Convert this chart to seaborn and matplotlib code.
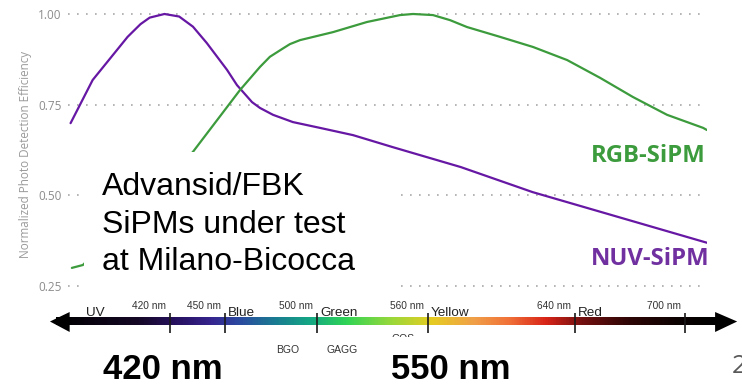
import numpy as np
import pandas as pd
import matplotlib
matplotlib.use("Agg")
import matplotlib.pyplot as plt
import seaborn as sns
from matplotlib.colors import LinearSegmentedColormap
from matplotlib.patches import Rectangle, Polygon

# ---------------- data ----------------
nuv_wl = [366, 378, 397, 404, 409, 417, 425, 432.5, 440, 451, 456.4, 464.6, 468.9, 476,
          486.8, 501.5, 519.5, 541, 578, 617, 712]
nuv_pde = [0.699, 0.818, 0.937, 0.972, 0.990, 1.000, 0.993, 0.965, 0.920, 0.846, 0.804,
           0.757, 0.741, 0.722, 0.702, 0.686, 0.666, 0.633, 0.578, 0.509, 0.369]
rgb_wl = [366.7, 372.7, 432.5, 458, 468.9, 474.3, 481.4, 485.2, 490.7, 508.6, 527.1, 545, 552.1,
          562.9, 572.2, 581.4, 599.3, 617.3, 635.8, 653.7, 671.6, 690.1, 709.7, 711.8]
rgb_pde = [0.300, 0.308, 0.620, 0.790, 0.854, 0.882, 0.905, 0.917, 0.928, 0.950, 0.978, 0.997,
           1.000, 0.997, 0.983, 0.964, 0.937, 0.909, 0.873, 0.824, 0.771, 0.722, 0.686, 0.680]

ytick_vals = [0.25, 0.50, 0.75, 1.00]
ytick_labels = ["0.25", "0.50", "0.75", "1.00"]

scale_ticks = [420, 450, 500, 560, 640, 700]
scale_tick_labels = ["420 nm", "450 nm", "500 nm", "560 nm", "640 nm", "700 nm"]
color_names = ["Blue", "Green", "Yellow", "Red"]
color_name_at = [450, 500, 560, 640]

spec_wl = [355, 400, 420, 440, 455, 475, 495, 515, 540, 562, 585, 605, 625, 645, 670, 700, 720]
spec_col = ["#000000", "#150826", "#26105e", "#36248e", "#2c48a0", "#1a7a92", "#14a884",
            "#30d455", "#9ad83a", "#e6cc22", "#f0a048", "#f07038", "#d82418", "#741010",
            "#300606", "#0a0202", "#000000"]

NUV_C = "#6617a3"
RGB_C = "#3c9b3c"

# ---------------- figure ----------------
sns.set_theme(style="white")
plt.rcParams['font.family'] = ['Liberation Sans', 'DejaVu Sans']

fig = plt.figure(figsize=(7.42, 3.86), dpi=100)
L, R, T, B = 68, 707, 8, 300
ax = fig.add_axes([L / 742, 1 - B / 386, (R - L) / 742, (B - T) / 386])

df = pd.concat([
    pd.DataFrame({"wl": nuv_wl, "pde": nuv_pde, "sensor": "NUV-SiPM"}),
    pd.DataFrame({"wl": rgb_wl, "pde": rgb_pde, "sensor": "RGB-SiPM"}),
])
sns.lineplot(data=df, x="wl", y="pde", hue="sensor",
             palette={"NUV-SiPM": NUV_C, "RGB-SiPM": RGB_C},
             linewidth=1.6, legend=False, ax=ax, zorder=2)
for ln in ax.get_lines():
    ln.set_solid_joinstyle("round")
    ln.set_solid_capstyle("round")

ax.set_xlim(364.6, 711.8)
ax.set_ylim(0.2115, 1.0165)
ax.set_xticks([])
ax.set_yticks(ytick_vals)
ax.set_yticklabels(ytick_labels, fontfamily="Open Sans", fontsize=8.5, color="#8c8c8c")
ax.tick_params(axis="y", length=0, pad=4.5)
ax.set_axisbelow(True)
ax.grid(axis="y", color="#a8a8a8", linestyle=(0, (1, 4.4)), linewidth=1.2)
for s in ax.spines.values():
    s.set_visible(False)
ax.set_xlabel("")
ax.set_ylabel("Normalized Photo Detection Efficiency", fontfamily="Open Sans",
              fontsize=8.4, color="#9a9a9a")
ax.yaxis.set_label_coords(-0.057, 0.5)

# white text box covering part of the plot
ax.add_patch(Rectangle((373.3, 0.2335), 542.8 - 373.3, 0.6195 - 0.2335,
                       facecolor="white", edgecolor="none", zorder=3))
for txt, yv in zip(["Advansid/FBK", "SiPMs under test", "at Milano-Bicocca"],
                   [0.501, 0.3954, 0.2942]):
    ax.text(383.0, yv, txt, fontsize=23, color="black", ha="left", va="baseline", zorder=4)

ax.text(710.8, 0.592, "RGB-SiPM", fontfamily="Open Sans", fontweight="bold",
        fontsize=17.2, color=RGB_C, ha="right", va="baseline", zorder=4)
ax.text(712.9, 0.308, "NUV-SiPM", fontfamily="Open Sans", fontweight="bold",
        fontsize=17.2, color="#7030a0", ha="right", va="baseline", zorder=4)

# ---------------- spectrum scale ----------------
stops = [(w - spec_wl[0]) / (spec_wl[-1] - spec_wl[0]) for w in spec_wl]
cmap = LinearSegmentedColormap.from_list("spec", list(zip(stops, spec_col)))
grad = np.linspace(0, 1, 512).reshape(1, -1)
im = ax.imshow(grad, cmap=cmap, aspect="auto", interpolation="bilinear",
               extent=(spec_wl[0] + 3, spec_wl[-1] - 2, 0.1420, 0.1622), zorder=3)
im.set_clip_on(False)
ax.set_xlim(364.6, 711.8)
ax.set_ylim(0.2115, 1.0165)
ax.add_patch(Polygon([(354.8, 0.1522), (365.5, 0.1784), (365.5, 0.1233)], closed=True,
                     facecolor="black", edgecolor="none", zorder=4, clip_on=False))
ax.add_patch(Polygon([(728.2, 0.1522), (716.2, 0.1784), (716.2, 0.1233)], closed=True,
                     facecolor="black", edgecolor="none", zorder=4, clip_on=False))
ax.vlines(scale_ticks, 0.1205, 0.1756, color="#1a1a1a", linewidth=1.2, zorder=5, clip_on=False)

for w, lab in zip(scale_ticks, scale_tick_labels):
    ax.text(w - 2.2, 0.1867, lab, fontsize=7.3, color="#333333", ha="right", va="baseline",
            clip_on=False)
for w, lab in zip(color_name_at, color_names):
    ax.text(w + 1.6, 0.1674, lab, fontsize=9.7, color="#222222", ha="left", va="baseline",
            clip_on=False)
ax.text(379.2, 0.1674, "UV", fontsize=9.7, color="#222222", ha="center", va="baseline",
        clip_on=False)

ax.text(484.1, 0.0736, "BGO", fontsize=7.5, color="#333333", ha="center", va="center",
        clip_on=False)
ax.text(513.5, 0.0736, "GAGG", fontsize=7.5, color="#333333", ha="center", va="center",
        clip_on=False)
ax.text(546.6, 0.1035, "GOS", fontsize=7.5, color="#333333", ha="center", va="center",
        clip_on=False, zorder=2)
ax.add_patch(Rectangle((536, 0.084), 22, 0.026, facecolor="white", edgecolor="none",
                       zorder=3, clip_on=False))

ax.text(416.2, -0.0243, "420 nm", fontsize=25, fontweight="bold", color="black",
        ha="center", va="bottom", clip_on=False)
ax.text(572.7, -0.0243, "550 nm", fontsize=25, fontweight="bold", color="black",
        ha="center", va="bottom", clip_on=False)
ax.text(725.4, 0.0102, "2", fontfamily="Open Sans", fontsize=19, color="#595959",
        ha="left", va="baseline", clip_on=False)

fig.savefig("out.png", dpi=100)
